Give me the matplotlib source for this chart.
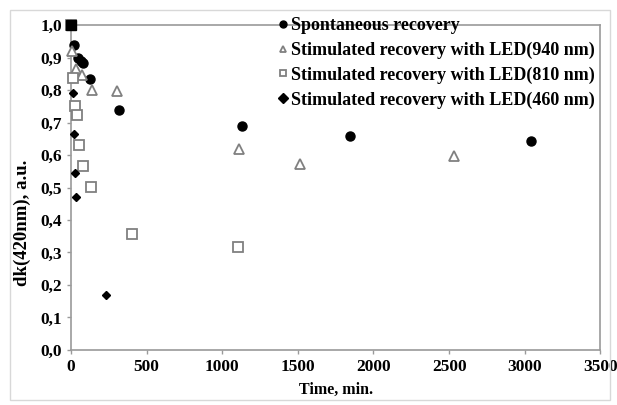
import matplotlib
matplotlib.use("Agg")
import matplotlib.pyplot as plt
from matplotlib.ticker import FuncFormatter
from matplotlib.patches import Rectangle

# data
t_spont = [0, 20, 46, 66, 80, 126, 320, 1130, 1845, 3040]
dk_spont = [1.0, 0.94, 0.90, 0.89, 0.883, 0.834, 0.74, 0.689, 0.658, 0.643]

t_940 = [0, 7, 35, 70, 139, 305, 1110, 1515, 2535]
dk_940 = [1.0, 0.92, 0.865, 0.845, 0.80, 0.798, 0.618, 0.572, 0.597]

t_810 = [0, 13, 26, 40, 53, 80, 132, 404, 1106]
dk_810 = [1.0, 0.836, 0.752, 0.724, 0.632, 0.565, 0.502, 0.357, 0.317]

t_460 = [0, 13, 20, 26, 33, 232]
dk_460 = [1.0, 0.79, 0.665, 0.545, 0.47, 0.17]

labels = ["Spontaneous recovery",
          "Stimulated recovery with LED(940 nm)",
          "Stimulated recovery with LED(810 nm)",
          "Stimulated recovery with LED(460 nm)"]

plt.rcParams['font.family'] = ['Liberation Serif', 'DejaVu Serif']
plt.rcParams['font.weight'] = 'bold'

fig = plt.figure(figsize=(6.17, 4.05), dpi=100)
ax = fig.add_axes([0.115, 0.136, 0.858, 0.802])

# light outer chart frame
fig.patches.append(Rectangle((10 / 617, 5 / 405), 600 / 617, 390 / 405,
                             transform=fig.transFigure, fill=False,
                             edgecolor='#d8d8d8', linewidth=1))

ax.plot(t_spont, dk_spont, 'o', color='black', markersize=6.5, label=labels[0],
        zorder=3, clip_on=False)
ax.plot(t_940, dk_940, '^', mfc='white', mec='#808080', mew=1.3, markersize=6.5,
        label=labels[1], zorder=3, clip_on=False)
ax.plot(t_810, dk_810, 's', mfc='white', mec='#808080', mew=1.3, markersize=7,
        label=labels[2], zorder=3, clip_on=False)
ax.plot(t_460, dk_460, 'D', color='black', markersize=4.5, label=labels[3],
        zorder=4, clip_on=False)
# the overlapping start points show as a solid square in the original
ax.plot([t_810[0]], [dk_810[0]], 's', color='black', markersize=7, zorder=5, clip_on=False)

ax.set_xlim(0, 3500)
ax.set_ylim(0, 1.0)
ax.set_xticks(range(0, 3501, 500))
ax.set_yticks([i / 10 for i in range(11)])
ax.yaxis.set_major_formatter(FuncFormatter(lambda v, p: ("%.1f" % v).replace('.', ',')))

for s in ax.spines.values():
    s.set_color('#9a9a9a')
    s.set_linewidth(1.2)
ax.tick_params(colors='#9a9a9a', labelcolor='black', labelsize=12.5, length=3, width=1)
for lab in ax.get_xticklabels() + ax.get_yticklabels():
    lab.set_fontweight('bold')

ax.set_xlabel("Time, min.", fontsize=11.5, fontweight='bold', labelpad=5)
ax.set_ylabel("dk(420nm), a.u.", fontsize=13.5, fontweight='bold')
ax.yaxis.set_label_coords(-0.076, 0.39)

leg = fig.legend(loc='upper left', bbox_to_anchor=(278 / 617, 1 - 17 / 405),
                 frameon=False, prop={'weight': 'bold', 'size': 13},
                 handletextpad=0.1, handlelength=0.6, labelspacing=0.42,
                 borderpad=0, borderaxespad=0,
                 handles=ax.get_legend_handles_labels()[0][:4])
for h in leg.legend_handles:
    h.set_markersize(5)

fig.savefig("out.png", dpi=100)
